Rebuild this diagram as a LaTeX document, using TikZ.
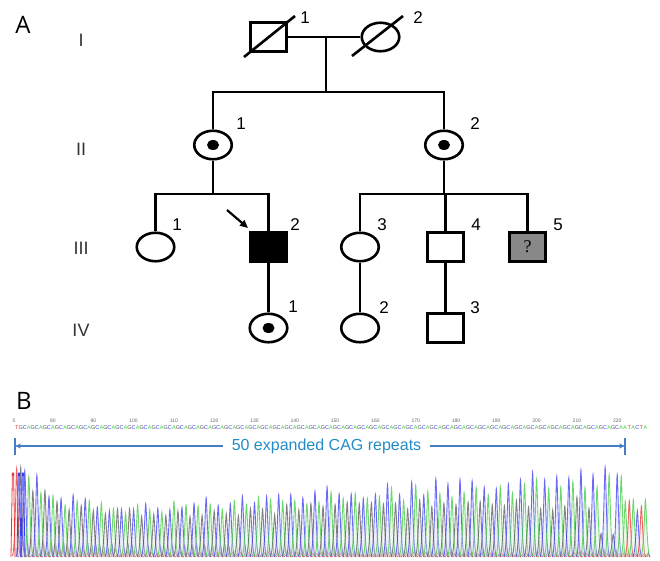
\documentclass[tikz,border=0pt]{standalone}
\usepackage{fontspec}
\setmainfont{Liberation Sans}
\newfontfamily\serifq{Liberation Serif}
\newfontfamily\panelfont{Open Sans}
\usetikzlibrary{shapes.geometric,arrows.meta}
\definecolor{baseA}{RGB}{60,205,60}
\definecolor{baseC}{RGB}{60,60,245}
\definecolor{baseG}{RGB}{90,90,90}
\definecolor{baseT}{RGB}{235,50,50}
\definecolor{navy}{RGB}{40,40,130}
\definecolor{brk}{RGB}{70,125,195}
\definecolor{brktext}{RGB}{35,140,200}
\definecolor{affgray}{RGB}{136,136,136}
\begin{document}
\begin{tikzpicture}[x=1pt,y=-1pt,
  sq/.style={draw, line width=2.6pt, minimum width=36.5pt, minimum height=29.5pt, inner sep=0pt},
  fem/.style={ellipse, draw, line width=2.6pt, minimum width=37.5pt, minimum height=28.5pt, inner sep=0pt},
  cdot/.style={ellipse, fill=black, minimum width=12pt, minimum height=10pt, inner sep=0pt},
  pline/.style={line width=2.6pt},
  num/.style={font=\fontsize{17}{17}\selectfont, inner sep=0pt},
  gen/.style={font=\fontsize{18}{18}\selectfont, text=black!80, inner sep=0pt},
  panel/.style={font=\panelfont\fontsize{24}{24}\selectfont, inner sep=0pt},
  seqnum/.style={font=\fontsize{5}{5}\selectfont, text=black!60, inner sep=0pt},
  seqlet/.style={font=\fontsize{5.5}{5.5}\selectfont, inner sep=0pt},
  brkline/.style={brk, line width=1.3pt}
]
\useasboundingbox (0,0) rectangle (660,561);

% ---------- panel A ----------
\node[panel] (A) at (23,25) {A};
\node[gen] (gI) at (81,40) {I};
\node[gen] (gII) at (81,149) {II};
\node[gen] (gIII) at (81,248) {III};
\node[gen] (gIV) at (81,330) {IV};

% generation I
\node[sq] (I1) at (268.5,37) {};
\node[fem] (I2) at (380.5,37) {};
\draw[pline] (244,57) -- (295,16);
\draw[pline] (352,56) -- (403,16);
\node[num] (lI1) at (305,18) {1};
\node[num] (lI2) at (418,18) {2};

% generation II
\node[fem] (II1) at (213,145) {};
\node[cdot] (dII1) at (II1.center) {};
\node[fem] (II2) at (444,145) {};
\node[cdot] (dII2) at (II2.center) {};
\node[num] (lII1) at (241,124) {1};
\node[num] (lII2) at (475,124) {2};

% generation III
\node[fem] (III1) at (155.5,247) {};
\node[sq, fill=black] (III2) at (268.5,247) {};
\node[fem] (III3) at (360,247) {};
\node[sq] (III4) at (445.5,247) {};
\node[sq, fill=affgray] (III5) at (527.5,247) {\serifq\fontsize{18}{18}\selectfont ?};
\node[num] (lIII1) at (177,225) {1};
\node[num] (lIII2) at (295,225) {2};
\node[num] (lIII3) at (382,225) {3};
\node[num] (lIII4) at (476,225) {4};
\node[num] (lIII5) at (558,225) {5};

% generation IV
\node[fem] (IV1) at (268.5,328) {};
\node[cdot] (dIV1) at (IV1.center) {};
\node[fem] (IV2) at (360,328) {};
\node[sq] (IV3) at (445.5,328) {};
\node[num] (lIV1) at (293,307) {1};
\node[num] (lIV2) at (384,308) {2};
\node[num] (lIV3) at (475,308) {3};

% connectors
\coordinate (m1) at (326,37);
\coordinate (s1) at (326,92);
\coordinate (s1l) at (213,92);
\coordinate (s1r) at (444,92);
\draw[pline] (I1) -- (I2);
\draw[pline] (m1) -- (s1);
\draw[pline] (II1.north) -- (s1l) -- (s1r) -- (II2.north);

\coordinate (s2) at (213,194);
\coordinate (s2l) at (155.5,194);
\coordinate (s2r) at (268.5,194);
\draw[pline] (II1.south) -- (s2);
\draw[pline] (III1.north) -- (s2l) -- (s2r) -- (III2.north);

\coordinate (s3) at (444,194);
\coordinate (s3l) at (360,194);
\coordinate (s3m) at (445.5,194);
\coordinate (s3r) at (527.5,194);
\draw[pline] (II2.south) -- (s3);
\draw[pline] (III3.north) -- (s3l) -- (s3r) -- (III5.north);
\draw[pline] (s3m) -- (III4.north);

\draw[pline] (III2.south) -- (IV1.north);
\draw[pline] (III3.south) -- (IV2.north);
\draw[pline] (III4.south) -- (IV3.north);

% proband arrow
\coordinate (arS) at (227,210);
\coordinate (arE) at (248,228);
\draw[line width=2.2pt, -{Triangle[length=8pt,width=7pt]}] (arS) -- (arE);

% ---------- panel B ----------
\node[panel] (B) at (24,401) {B};

% sequence numbers
\node[seqnum] (n0) at (14,421) {0};
\foreach \n in {80,90,...,220}{
  \node[seqnum] (n\n) at ({53+(\n-80)*4.03},421) {\n};
}

% background noise peaks
\pgfmathsetseed{12}
\foreach \p in {71,...,227}{
  \pgfmathsetmacro\xx{53+(\p-80)*4.03+2}
  \pgfmathsetmacro\hr{2+(3+20*exp(max(-9,-(\xx-20)/50)))*rnd}
  \draw[baseT, line width=0.5pt, draw opacity=0.8]
    (\xx-3,557) .. controls (\xx-1,557) and (\xx-0.5,557-\hr) .. (\xx,557-\hr)
    .. controls (\xx+0.5,557-\hr) and (\xx+1,557) .. (\xx+3,557);
  \pgfmathsetmacro\hn{2+12*rnd*(1-0.6*\xx/650)}
  \draw[navy, line width=0.5pt, draw opacity=0.7]
    (\xx-0.5,557) .. controls (\xx+0.5,557) and (\xx+0.7,557-\hn) .. (\xx+1,557-\hn)
    .. controls (\xx+1.3,557-\hn) and (\xx+1.5,557) .. (\xx+2.5,557);
}

% sequence letters and main peaks
\foreach \p in {71,...,227}{
  \pgfmathsetmacro\xx{53+(\p-80)*4.03}
  \pgfmathtruncatemacro\k{mod(\p-72+300,3)}
  \ifnum\p<72 \gdef\lt{T}\else
    \ifnum\p>221 \xdef\lt{\ifcase\numexpr\p-222\relax A\or T\or A\or C\or T\or A\fi}%
    \else \xdef\lt{\ifcase\k G\or C\or A\fi}\fi
  \fi
  \node[seqlet, text=base\lt] (L\p) at (\xx,428) {\lt};
  \pgfmathsetmacro\fac{ifthenelse(\p>221,0.62,ifthenelse(\p<72,0.95,ifthenelse(\k==0,0.9-0.25*\xx/650-ifthenelse(\xx>595,0.35,0),ifthenelse(\k==1,1.0,0.93))))}
  \pgfmathsetmacro\hh{(50+45*exp(max(-9,-(\xx-20)/30))+30*max(0,(\xx-120)/470))*\fac*(0.88+0.24*rnd)}
  \filldraw[draw=base\lt, fill=base\lt!25, fill opacity=0.35, draw opacity=0.75, line width=0.9pt]
    (\xx-4.5,556) .. controls (\xx-1.6,556) and (\xx-0.7,557-\hh) .. (\xx,557-\hh)
    .. controls (\xx+0.7,557-\hh) and (\xx+1.6,556) .. (\xx+4.5,556);
}

% extra clipped peaks at the start
\foreach \xs/\cl in {13/baseT,19/baseC,23/baseC}{
  \draw[\cl, line width=0.8pt] (\xs-2,557) -- (\xs-0.6,473) -- (\xs+0.6,473) -- (\xs+2,557);
}

% bracket with label
\node[text=brktext, font=\fontsize{16}{16}\selectfont, inner xsep=9pt, inner ysep=2pt] (rep) at (326.5,446) {50 expanded CAG repeats};
\coordinate (bl) at (15,446);
\coordinate (br) at (625,446);
\coordinate (blt) at (15,438);
\coordinate (blb) at (15,455);
\coordinate (brt) at (625,438);
\coordinate (brb) at (625,455);
\draw[brkline, -{Stealth[length=6pt,width=5pt]}] (rep.west) -- (bl);
\draw[brkline, -{Stealth[length=6pt,width=5pt]}] (rep.east) -- (br);
\draw[brkline, line width=1.8pt] (blt) -- (blb);
\draw[brkline, line width=1.8pt] (brt) -- (brb);
\end{tikzpicture}
\end{document}
